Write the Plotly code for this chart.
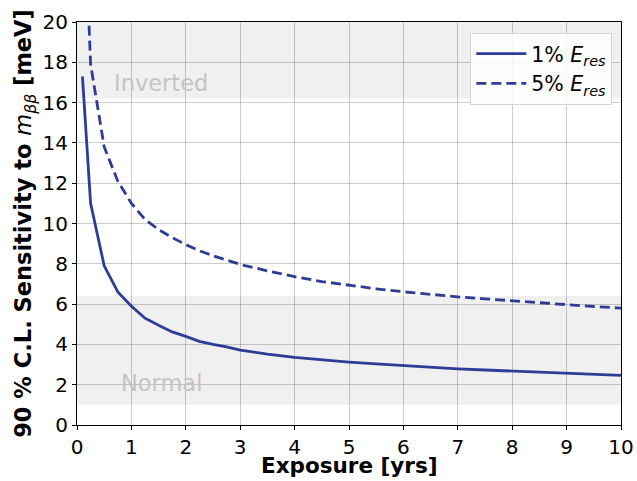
import plotly.graph_objects as go

exposure = [0.1, 0.25, 0.5, 0.75, 1.0, 1.25, 1.5, 1.75, 2.0, 2.25, 2.5, 2.75, 3.0,
            3.5, 4.0, 4.5, 5.0, 5.5, 6.0, 6.5, 7.0, 7.5, 8.0, 8.5, 9.0, 9.5, 10.0]
sens_1pct = [17.3, 11.0, 7.9, 6.6, 5.9, 5.3, 4.95, 4.62, 4.4, 4.15, 4.0, 3.88, 3.72,
             3.52, 3.36, 3.23, 3.12, 3.03, 2.94, 2.87, 2.79, 2.73, 2.67, 2.61, 2.56, 2.51, 2.46]
sens_5pct = [28.0, 17.9, 13.8, 12.1, 11.0, 10.2, 9.7, 9.3, 8.95, 8.65, 8.4, 8.18, 7.97,
             7.65, 7.36, 7.12, 6.93, 6.76, 6.61, 6.48, 6.36, 6.26, 6.16, 6.06, 5.96, 5.88, 5.8]
bands = {"Inverted": (16.2, 20.0), "Normal": (1.0, 6.4)}
band_labels = {"Inverted": (0.64, 16.95), "Normal": (0.77, 2.1)}

color = "#2e3c96"
font = "DejaVu Sans"

fig = go.Figure()
fig.add_trace(go.Scatter(x=exposure, y=sens_1pct, mode="lines",
                         line=dict(color=color, width=2.8),
                         name="1% <i>E</i><sub><i>res</i></sub>"))
fig.add_trace(go.Scatter(x=exposure, y=sens_5pct, mode="lines",
                         line=dict(color=color, width=2.8, dash="10px,5px"),
                         name="5% <i>E</i><sub><i>res</i></sub>"))

for name, (y0, y1) in bands.items():
    fig.add_shape(type="rect", xref="paper", x0=0, x1=1, yref="y", y0=y0, y1=y1,
                  fillcolor="#f0f0f0", line=dict(width=0), layer="below")
    lx, ly = band_labels[name]
    fig.add_annotation(x=lx, y=ly, text=name, showarrow=False, xanchor="left",
                       yanchor="middle", font=dict(family=font, size=22.5, color="#c4c4c4"))

# x-axis title as annotation (placed below tick labels)
fig.add_annotation(xref="paper", yref="paper", x=0.5, y=-0.134, text="<b>Exposure [yrs]</b>",
                   showarrow=False, xanchor="center", yanchor="bottom", borderpad=0,
                   font=dict(family=font, size=21.5, color="black"))

axis_common = dict(showline=True, linecolor="black", linewidth=1.2, mirror=True,
                   ticks="outside", ticklen=4, tickcolor="black", automargin=False,
                   showgrid=True, gridcolor="rgba(0,0,0,0.2)", gridwidth=1, griddash="solid",
                   zeroline=False, tickfont=dict(family=font, size=20, color="black"))

fig.update_xaxes(range=[0, 10], dtick=1, **axis_common)
fig.update_yaxes(range=[0, 20], dtick=2, **axis_common,
                 title=dict(text="<b>90 % C.L. Sensitivity to </b><i>m</i><sub><i>ββ</i></sub><b> [meV]</b>",
                            font=dict(family=font, size=22.5, color="black"), standoff=4))

fig.update_layout(
    width=637, height=481,
    margin=dict(l=77, r=16, t=22, b=56),
    plot_bgcolor="white", paper_bgcolor="white",
    showlegend=True,
    legend=dict(x=0.984, y=0.973, xanchor="right", yanchor="top",
                bgcolor="rgba(255,255,255,0.85)", bordercolor="#d4d4d4", borderwidth=1,
                font=dict(family=font, size=20.5, color="black"),
                itemwidth=50, tracegroupgap=4),
)

fig.write_html("out.html")
